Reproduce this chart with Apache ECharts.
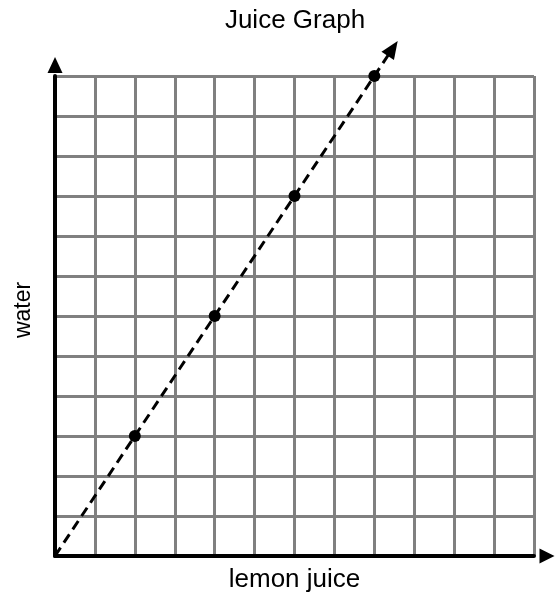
<!DOCTYPE html>
<html>
<head>
<meta charset="utf-8">
<script src="https://cdn.jsdelivr.net/npm/echarts@6/dist/echarts.min.js"></script>
<style>
  html, body { margin: 0; padding: 0; background: #fff; }
  #chart { width: 556px; height: 594px; }
</style>
</head>
<body>
<div id="chart"></div>
<script>
// Juice mix: cups of lemon juice vs cups of water
const titleText = 'Juice Graph';
const xName = 'lemon juice';
const yName = 'water';
const lemonJuice = [2, 4, 6, 8];
const water = [3, 6, 9, 12];
// the dashed trend line runs from the origin past the last point
const trendStart = [0, 0];
const trendEnd = [8.46, 12.69];
const axisMax = 12;

const points = lemonJuice.map((x, i) => [x, water[i]]);

const chart = echarts.init(document.getElementById('chart'));
const font = 'Liberation Sans, Arial, sans-serif';

const axisCommon = {
  type: 'value',
  min: 0,
  max: axisMax,
  interval: 1,
  nameLocation: 'middle',
  axisLabel: { show: false },
  axisTick: { show: false },
  splitLine: { show: true, showMinLine: false, lineStyle: { color: '#808080', width: 3 } }
};

function buildOption(arrowRotate) {
  return {
    animation: false,
    title: {
      text: titleText,
      left: 290,
      top: 3,
      textAlign: 'center',
      textStyle: { fontFamily: font, fontSize: 26, fontWeight: 'normal', color: '#000' }
    },
    grid: { left: 55, right: 22, top: 76, bottom: 38, containLabel: false, outerBoundsMode: 'none' },
    xAxis: Object.assign({}, axisCommon, {
      name: xName,
      nameGap: 11,
      nameTextStyle: { fontFamily: font, fontSize: 26, color: '#000' },
      axisLine: {
        show: true, onZero: false,
        symbol: ['none', 'triangle'], symbolSize: [15, 15], symbolOffset: [0, 13],
        lineStyle: { color: '#000', width: 4 }
      }
    }),
    yAxis: Object.assign({}, axisCommon, {
      name: yName,
      nameGap: 20,
      nameTextStyle: { fontFamily: font, fontSize: 23, color: '#000', padding: [0, 0, 0, 12] },
      axisLine: {
        show: true, onZero: false,
        symbol: ['none', 'triangle'], symbolSize: [15, 16], symbolOffset: [0, 11],
        lineStyle: { color: '#000', width: 4 }
      }
    }),
    series: [
      {
        // dashed trend line through the origin
        type: 'line',
        data: [trendStart, trendEnd],
        clip: false,
        symbol: 'none',
        silent: true,
        lineStyle: { color: '#000', width: 3, type: [10, 6] },
        z: 3
      },
      {
        // arrow head at the end of the trend line
        type: 'scatter',
        data: [trendEnd],
        clip: false,
        silent: true,
        symbol: 'triangle',
        symbolSize: [15, 18],
        symbolRotate: arrowRotate,
        itemStyle: { color: '#000', opacity: 1 },
        z: 4
      },
      {
        type: 'scatter',
        data: points,
        clip: false,
        symbol: 'circle',
        symbolSize: 12,
        itemStyle: { color: '#000', opacity: 1 },
        z: 5
      }
    ]
  };
}

chart.setOption(buildOption(0));
// orient the arrow head along the trend line in screen space
const p0 = chart.convertToPixel({ gridIndex: 0 }, trendStart);
const p1 = chart.convertToPixel({ gridIndex: 0 }, trendEnd);
const angle = Math.atan2(p0[1] - p1[1], p1[0] - p0[0]) * 180 / Math.PI;
chart.setOption(buildOption(angle - 90));
</script>
</body>
</html>
